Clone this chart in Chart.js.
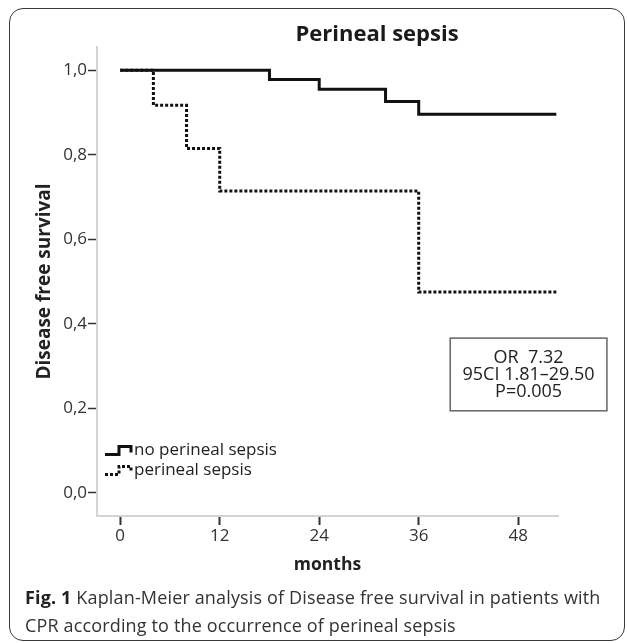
<!DOCTYPE html>
<html>
<head>
<meta charset="utf-8">
<script src="https://cdn.jsdelivr.net/npm/chart.js@4"></script>
<style>
  html, body { margin: 0; padding: 0; background: #fff; width: 627px; height: 643px; overflow: hidden; }
  #frame { position: absolute; left: 9px; top: 8px; width: 614px; height: 631px; border: 1.5px solid #3a3a3a; border-radius: 14px; }
  #wrap { position: absolute; left: 0; top: 0; width: 627px; height: 643px; }
  #caption { position: absolute; left: 25px; top: 583px; width: 600px; font-family: "Open Sans", sans-serif; font-size: 18px; letter-spacing: 0.15px; line-height: 28px; color: #333; white-space: nowrap; }
  #caption b { font-weight: bold; color: #222; }
</style>
</head>
<body>
<div id="frame"></div>
<div id="wrap"><canvas id="c" width="627" height="643"></canvas></div>
<div id="caption"><b>Fig. 1</b> Kaplan-Meier analysis of Disease free survival in patients with<br>CPR according to the occurrence of perineal sepsis</div>
<script>
// ---- data ----
const chartTitle = "Perineal sepsis";
const seriesNames = ["no perineal sepsis", "perineal sepsis"];
const noSepsisMonths = [0, 18, 24, 32, 36, 52.6];
const noSepsisSurvival = [1.0, 0.978, 0.955, 0.926, 0.896, 0.896];
const sepsisMonths = [0, 4, 8, 12, 36, 52.6];
const sepsisSurvival = [1.0, 0.917, 0.815, 0.714, 0.475, 0.475];
const xTickValues = [0, 12, 24, 36, 48];
const yTickValues = [0, 0.2, 0.4, 0.6, 0.8, 1.0];
const yTickLabels = ["0,0", "0,2", "0,4", "0,6", "0,8", "1,0"];
const statsLines = ["OR  7.32", "95CI 1.81\u201329.50", "P=0.005"];
const xTitle = "months";
const yTitle = "Disease free survival";

const toPoints = (xs, ys) => xs.map((x, i) => ({ x: x, y: ys[i] }));

const FONT = '"Open Sans", sans-serif';

const overlayPlugin = {
  id: 'overlay',
  afterDraw(chart) {
    const ctx = chart.ctx;
    const xs = chart.scales.x, ys = chart.scales.y;
    const area = chart.chartArea;
    ctx.save();
    // title
    ctx.fillStyle = '#1a1a1a';
    ctx.font = 'bold 22px ' + FONT;
    ctx.textAlign = 'center';
    ctx.textBaseline = 'middle';
    ctx.fillText(chartTitle, 377, 35);

    // stats box (in data space)
    const bx0 = xs.getPixelForValue(39.8), bx1 = xs.getPixelForValue(58.7);
    const by0 = ys.getPixelForValue(0.366), by1 = ys.getPixelForValue(0.194);
    ctx.strokeStyle = '#666';
    ctx.lineWidth = 1.5;
    ctx.strokeRect(bx0, by0, bx1 - bx0, by1 - by0);
    ctx.font = '18px ' + FONT;
    ctx.fillStyle = '#222';
    const cx = (bx0 + bx1) / 2;
    const midY = (by0 + by1) / 2;
    statsLines.forEach((t, i) => ctx.fillText(t, cx, midY + (i - 1) * 17));

    // legend
    const lx = area.left + 8, ly0 = ys.getPixelForValue(0.1);
    const datasets = chart.data.datasets;
    datasets.forEach((ds, i) => {
      const y = ly0 + i * 20;
      ctx.beginPath();
      ctx.strokeStyle = ds.borderColor;
      ctx.lineWidth = 3;
      ctx.setLineDash(ds.borderDash || []);
      ctx.moveTo(lx, y + 4);
      ctx.lineTo(lx + 14, y + 4);
      ctx.lineTo(lx + 14, y - 4);
      ctx.lineTo(lx + 26, y - 4);
      ctx.lineTo(lx + 26, y + 2);
      ctx.stroke();
      ctx.setLineDash([]);
      ctx.fillStyle = '#222';
      ctx.font = '17px ' + FONT;
      ctx.textAlign = 'left';
      ctx.fillText(ds.label, lx + 29, y);
    });
    ctx.restore();
  }
};

new Chart(document.getElementById('c'), {
  type: 'line',
  data: {
    datasets: [
      { label: seriesNames[0], data: toPoints(noSepsisMonths, noSepsisSurvival), borderColor: '#111', borderWidth: 3, stepped: 'before', pointRadius: 0, fill: false },
      { label: seriesNames[1], data: toPoints(sepsisMonths, sepsisSurvival), borderColor: '#111', borderWidth: 3, borderDash: [3, 2], stepped: 'before', pointRadius: 0, fill: false }
    ]
  },
  options: {
    responsive: false,
    animation: false,
    devicePixelRatio: 1,
    layout: { padding: { left: 33, top: 47, right: 69, bottom: 67 } },
    plugins: { legend: { display: false }, tooltip: { enabled: false }, title: { display: false } },
    scales: {
      x: {
        type: 'linear', min: -2.8, max: 52.8,
        afterBuildTicks: s => { s.ticks = xTickValues.map(v => ({ value: v })); },
        afterFit: s => { s.height = 60; },
        border: { color: '#d4d4d4', width: 2 },
        grid: { drawOnChartArea: false, drawTicks: true, tickLength: 9, tickColor: '#333', tickWidth: 2 },
        ticks: { color: '#333', font: { family: FONT, size: 17 }, padding: 1, maxRotation: 0 },
        title: { display: true, text: xTitle, color: '#222', font: { family: FONT, size: 17.5, weight: 'bold' }, padding: { top: 0, bottom: 0 } }
      },
      y: {
        type: 'linear', min: -0.055, max: 1.055,
        afterBuildTicks: s => { s.ticks = yTickValues.map(v => ({ value: v })); },
        afterFit: s => { s.width = 64; },
        border: { color: '#d4d4d4', width: 2 },
        grid: { drawOnChartArea: false, drawTicks: true, tickLength: 9, tickColor: '#333', tickWidth: 1.5 },
        ticks: { color: '#333', font: { family: FONT, size: 17 }, padding: 1,
          callback: (v) => { const i = yTickValues.findIndex(t => Math.abs(t - v) < 1e-9); return i >= 0 ? yTickLabels[i] : ''; } },
        title: { display: true, text: yTitle, color: '#222', font: { family: FONT, size: 19, weight: 'bold' }, padding: { top: 0, bottom: 0 } }
      }
    }
  },
  plugins: [overlayPlugin]
});
</script>
</body>
</html>
